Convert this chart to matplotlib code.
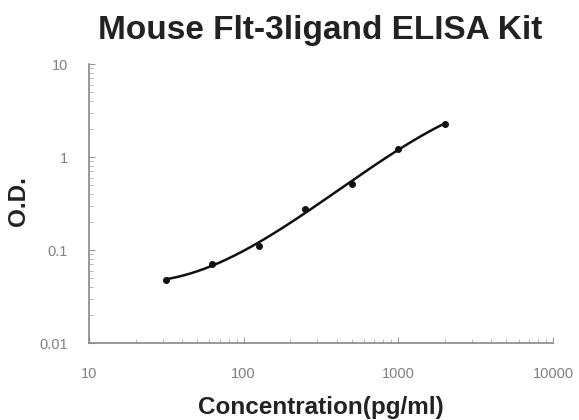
import numpy as np
import matplotlib
matplotlib.use("Agg")
import matplotlib.pyplot as plt
from matplotlib.ticker import LogLocator, FixedLocator, NullFormatter

conc = [31.25, 62.5, 125, 250, 500, 1000, 2000]
od = [0.048, 0.071, 0.11, 0.277, 0.516, 1.23, 2.29]
xticks = [10, 100, 1000, 10000]
xticklabels = ["10", "100", "1000", "10000"]
yticks = [0.01, 0.1, 1, 10]
yticklabels = ["0.01", "0.1", "1", "10"]

plt.rcParams['font.family'] = ['Liberation Sans', 'DejaVu Sans']

fig = plt.figure(figsize=(5.79, 4.2), dpi=100)
ax = fig.add_axes([0.1537, 0.1833, 0.8013, 0.6643])

# smooth fitted curve in log-log space
lx = np.log10(conc)
ly = np.log10(od)
coef = np.polyfit(lx, ly, 3)
xs = np.linspace(lx[0], lx[-1], 200)
ax.plot(10**xs, 10**np.polyval(coef, xs), color='#111111', lw=1.8, zorder=2)
ax.plot(conc, od, 'o', color='#111111', ms=4, zorder=3)

ax.set_xscale('log')
ax.set_yscale('log')
ax.set_xlim(10, 10000)
ax.set_ylim(0.01, 10)

ax.xaxis.set_major_locator(FixedLocator(xticks))
ax.set_xticklabels(xticklabels)
ax.yaxis.set_major_locator(FixedLocator(yticks))
ax.set_yticklabels(yticklabels)
ax.xaxis.set_minor_locator(LogLocator(base=10, subs=np.arange(2, 10)))
ax.yaxis.set_minor_locator(LogLocator(base=10, subs=np.arange(2, 10)))
ax.xaxis.set_minor_formatter(NullFormatter())
ax.yaxis.set_minor_formatter(NullFormatter())

for s in ['top', 'right']:
    ax.spines[s].set_visible(False)
for s in ['left', 'bottom']:
    ax.spines[s].set_color('#888888')
    ax.spines[s].set_linewidth(1.2)

ax.tick_params(axis='both', which='major', direction='in', length=4, color='#999999',
               labelsize=10.5, labelcolor='#808080')
ax.tick_params(axis='x', which='major', pad=17)
ax.tick_params(axis='y', which='major', pad=15)
ax.tick_params(axis='both', which='minor', direction='in', length=3, color='#aaaaaa')

ax.set_xlabel('Concentration(pg/ml)', fontsize=17.5, fontweight='bold', color='#222222')
ax.xaxis.set_label_coords(0.5, -0.19)
ax.set_ylabel('O.D.', fontsize=17.5, fontweight='bold', color='#222222')
ax.yaxis.set_label_coords(-0.127, 0.507)
fig.text(0.553, 0.928, 'Mouse Flt-3ligand ELISA Kit', ha='center', va='center',
         fontsize=24, fontweight='bold', color='#222222')

fig.savefig('out.png', dpi=100, facecolor='white')
